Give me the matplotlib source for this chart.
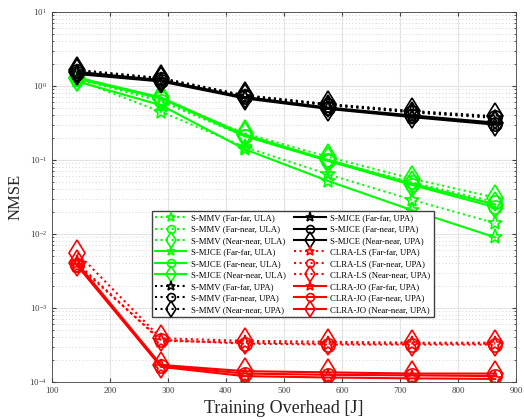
import matplotlib
matplotlib.use('Agg')
import matplotlib.pyplot as plt
from matplotlib.ticker import LogLocator, NullFormatter

plt.rcParams['font.family'] = 'Liberation Serif'
plt.rcParams['mathtext.fontset'] = 'custom'
plt.rcParams['mathtext.rm'] = 'Liberation Serif'
plt.rcParams['mathtext.it'] = 'Liberation Serif:italic'

# Overhead de treinamento (eixo x)
overhead = [144, 288, 432, 576, 720, 864]

# S-MMV, ULA (verde pontilhado)
smmv_ula_ff = [1.20, 0.45, 0.150, 0.064, 0.029, 0.014]
smmv_ula_fn = [1.25, 0.62, 0.210, 0.100, 0.050, 0.027]
smmv_ula_nn = [1.30, 0.66, 0.230, 0.110, 0.056, 0.031]
# S-MJCE, ULA (verde continuo)
smjce_ula_ff = [1.15, 0.55, 0.140, 0.052, 0.021, 0.009]
smjce_ula_fn = [1.25, 0.68, 0.210, 0.097, 0.046, 0.023]
smjce_ula_nn = [1.30, 0.70, 0.220, 0.100, 0.048, 0.025]
# S-MMV, UPA (preto pontilhado)
smmv_upa_ff = [1.55, 1.22, 0.72, 0.55, 0.44, 0.37]
smmv_upa_fn = [1.60, 1.25, 0.74, 0.56, 0.45, 0.38]
smmv_upa_nn = [1.65, 1.28, 0.75, 0.57, 0.46, 0.39]
# S-MJCE, UPA (preto continuo)
smjce_upa_ff = [1.45, 1.15, 0.68, 0.49, 0.38, 0.30]
smjce_upa_fn = [1.50, 1.18, 0.70, 0.50, 0.39, 0.31]
smjce_upa_nn = [1.55, 1.20, 0.71, 0.51, 0.40, 0.32]
# CLRA-LS, UPA (vermelho pontilhado)
clrals_ff = [0.0040, 3.6e-4, 3.4e-4, 3.3e-4, 3.3e-4, 3.3e-4]
clrals_fn = [0.0038, 3.7e-4, 3.3e-4, 3.2e-4, 3.2e-4, 3.2e-4]
clrals_nn = [0.0055, 3.9e-4, 3.6e-4, 3.5e-4, 3.4e-4, 3.4e-4]
# CLRA-JO, UPA (vermelho continuo)
clrajo_ff = [0.0037, 1.60e-4, 1.20e-4, 1.15e-4, 1.12e-4, 1.10e-4]
clrajo_fn = [0.0038, 1.65e-4, 1.30e-4, 1.25e-4, 1.23e-4, 1.20e-4]
clrajo_nn = [0.0040, 1.70e-4, 1.40e-4, 1.35e-4, 1.30e-4, 1.30e-4]

series = [
    (smmv_ula_ff, 'S-MMV (Far-far, ULA)', 'lime', ':', '*'),
    (smmv_ula_fn, 'S-MMV (Far-near, ULA)', 'lime', ':', 'o'),
    (smmv_ula_nn, 'S-MMV (Near-near, ULA)', 'lime', ':', 'd'),
    (smjce_ula_ff, 'S-MJCE (Far-far, ULA)', 'lime', '-', '*'),
    (smjce_ula_fn, 'S-MJCE (Far-near, ULA)', 'lime', '-', 'o'),
    (smjce_ula_nn, 'S-MJCE (Near-near, ULA)', 'lime', '-', 'd'),
    (smmv_upa_ff, 'S-MMV (Far-far, UPA)', 'black', ':', '*'),
    (smmv_upa_fn, 'S-MMV (Far-near, UPA)', 'black', ':', 'o'),
    (smmv_upa_nn, 'S-MMV (Near-near, UPA)', 'black', ':', 'd'),
    (smjce_upa_ff, 'S-MJCE (Far-far, UPA)', 'black', '-', '*'),
    (smjce_upa_fn, 'S-MJCE (Far-near, UPA)', 'black', '-', 'o'),
    (smjce_upa_nn, 'S-MJCE (Near-near, UPA)', 'black', '-', 'd'),
    (clrals_ff, 'CLRA-LS (Far-far, UPA)', 'red', ':', '*'),
    (clrals_fn, 'CLRA-LS (Far-near, UPA)', 'red', ':', 'o'),
    (clrals_nn, 'CLRA-LS (Near-near, UPA)', 'red', ':', 'd'),
    (clrajo_ff, 'CLRA-JO (Far-far, UPA)', 'red', '-', '*'),
    (clrajo_fn, 'CLRA-JO (Far-near, UPA)', 'red', '-', 'o'),
    (clrajo_nn, 'CLRA-JO (Near-near, UPA)', 'red', '-', 'd'),
]

# Tamanho do marcador por tipo
tam = {'*': 11, 'o': 9.5, 'd': 13}

fig = plt.figure(figsize=(5.24, 4.2), dpi=100)
ax = fig.add_axes([0.099, 0.0905, 0.886, 0.881])

for y, nome, cor, estilo, marc in series:
    ax.plot(overhead, y, color=cor, linestyle=estilo, linewidth=1.5, marker=marc,
            markersize=tam[marc], markerfacecolor='none', markeredgewidth=1.2, label=nome)

ax.set_yscale('log')
ax.set_xlim(100, 900)
ax.set_ylim(1e-4, 10)
ax.set_xticks([100, 200, 300, 400, 500, 600, 700, 800, 900])
ax.yaxis.set_major_locator(LogLocator(base=10, numticks=10))
ax.yaxis.set_minor_locator(LogLocator(base=10, subs=range(2, 10), numticks=10))
ax.yaxis.set_minor_formatter(NullFormatter())

# Grade estilo MATLAB
ax.grid(True, which='major', color='#e3e3e3', linewidth=0.8, linestyle='-')
ax.grid(True, which='minor', axis='y', color='#c8c8c8', linewidth=0.6, linestyle=(0, (1, 3)))
ax.set_axisbelow(True)

ax.tick_params(which='both', direction='in', top=True, right=True, labelsize=6.5,
               colors='#404040', length=3)
ax.tick_params(which='minor', length=1.5)
for s in ax.spines.values():
    s.set_color('#404040')
    s.set_linewidth(0.6)

ax.set_xlabel('Training Overhead [J]', fontsize=13, color='#262626')
ax.set_ylabel('NMSE', fontsize=12, color='#262626')

ax.legend(ncol=2, loc='lower left', bbox_to_anchor=(0.2155, 0.176), borderaxespad=0,
          fontsize=6.3, markerscale=0.6, handlelength=3.6, handletextpad=0.5,
          columnspacing=1.0, labelspacing=0.38, fancybox=False, edgecolor='#404040',
          framealpha=1, borderpad=0.35)

fig.savefig('out.png', dpi=100)
